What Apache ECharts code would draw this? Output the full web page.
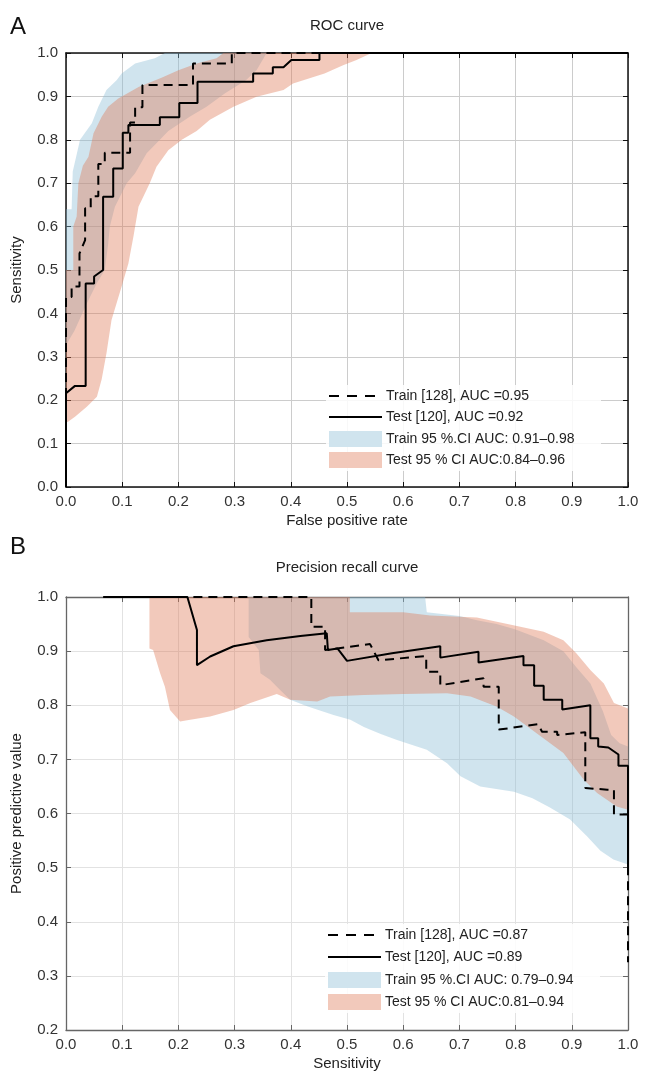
<!DOCTYPE html>
<html>
<head>
<meta charset="utf-8">
<script src="https://cdn.jsdelivr.net/npm/echarts@6/dist/echarts.min.js"></script>
<style>
html, body { margin: 0; padding: 0; background: #fff; }
#chart { width: 646px; height: 1078px; }
</style>
</head>
<body>
<div id="chart"></div>
<script>
// ---- ROC curve: [false positive rate, sensitivity] ----
var rocTrain = [[0,0],[0,0.438],[0.01,0.438],[0.01,0.462],[0.024,0.462],[0.024,0.538],[0.034,0.569],[0.034,0.642],[0.044,0.642],[0.044,0.670],[0.0575,0.670],[0.0575,0.744],[0.069,0.744],[0.069,0.770],[0.114,0.770],[0.114,0.840],[0.123,0.840],[0.123,0.875],[0.136,0.875],[0.136,0.926],[0.226,0.926],[0.226,0.976],[0.295,0.976],[0.295,1],[1,1]];
var rocTest = [[0,0],[0,0.216],[0.016,0.233],[0.035,0.233],[0.035,0.469],[0.05,0.469],[0.05,0.485],[0.053,0.485],[0.066,0.5],[0.066,0.669],[0.084,0.669],[0.084,0.734],[0.101,0.734],[0.101,0.816],[0.111,0.816],[0.111,0.834],[0.167,0.834],[0.167,0.852],[0.2016,0.852],[0.2016,0.885],[0.234,0.885],[0.234,0.934],[0.333,0.934],[0.333,0.953],[0.368,0.953],[0.368,0.967],[0.387,0.967],[0.401,0.984],[0.451,0.984],[0.451,1],[1,1]];
// 95% CI envelopes, traced as closed outlines
var rocTrainBand = [[0,0.327],[0,0.64],[0.01,0.64],[0.012,0.727],[0.025,0.8],[0.046,0.838],[0.0575,0.876],[0.072,0.915],[0.09,0.937],[0.099,0.953],[0.123,0.976],[0.158,0.988],[0.176,1.0],[0.357,1.0],[0.339,0.96],[0.32,0.937],[0.283,0.907],[0.25,0.876],[0.22,0.853],[0.182,0.82],[0.167,0.8],[0.1435,0.769],[0.123,0.723],[0.108,0.7],[0.087,0.646],[0.078,0.6],[0.075,0.56],[0.069,0.5],[0.055,0.47],[0.037,0.423],[0.015,0.36]];
var rocTestBand = [[0,0.15],[0,0.5],[0.013,0.5],[0.013,0.6],[0.019,0.623],[0.022,0.70],[0.03,0.74],[0.04,0.761],[0.049,0.815],[0.0635,0.853],[0.075,0.876],[0.093,0.895],[0.13,0.922],[0.17,0.943],[0.2,0.96],[0.2325,0.976],[0.268,0.988],[0.28,1.0],[0.544,1.0],[0.517,0.984],[0.493,0.972],[0.46,0.953],[0.404,0.93],[0.387,0.915],[0.339,0.899],[0.298,0.876],[0.256,0.846],[0.2325,0.82],[0.206,0.8],[0.182,0.776],[0.161,0.738],[0.149,0.7],[0.129,0.646],[0.123,0.6],[0.12,0.577],[0.111,0.515],[0.099,0.462],[0.081,0.385],[0.072,0.308],[0.0635,0.248],[0.055,0.208],[0.037,0.185],[0.016,0.162],[0.003,0.15]];

// ---- Precision-recall curve: [sensitivity, positive predictive value] ----
var prTrain = [[0.0665,1],[0.4365,1],[0.4365,0.945],[0.461,0.945],[0.461,0.902],[0.541,0.913],[0.556,0.883],[0.641,0.891],[0.641,0.862],[0.666,0.862],[0.666,0.837],[0.743,0.85],[0.743,0.834],[0.77,0.834],[0.77,0.755],[0.84,0.765],[0.847,0.751],[0.874,0.751],[0.874,0.745],[0.924,0.75],[0.924,0.647],[0.963,0.644],[0.975,0.644],[0.975,0.598],[1.0,0.598],[1.0,0.325]];
var prTest = [[0.0665,1],[0.216,1],[0.233,0.939],[0.233,0.874],[0.2565,0.89],[0.298,0.909],[0.357,0.92],[0.417,0.928],[0.464,0.933],[0.466,0.902],[0.483,0.905],[0.5,0.882],[0.58,0.896],[0.666,0.909],[0.666,0.888],[0.734,0.899],[0.734,0.879],[0.814,0.891],[0.814,0.874],[0.833,0.874],[0.833,0.836],[0.85,0.836],[0.85,0.81],[0.883,0.81],[0.883,0.792],[0.933,0.80],[0.933,0.739],[0.947,0.739],[0.947,0.724],[0.965,0.722],[0.983,0.709],[0.983,0.688],[1.0,0.688],[1.0,0.5]];
var prTrainBand = [[0.325,1.0],[0.639,1.0],[0.642,0.972],[0.7,0.965],[0.731,0.957],[0.766,0.95],[0.8,0.94],[0.85,0.92],[0.885,0.9],[0.908,0.87],[0.933,0.84],[0.955,0.79],[0.97,0.745],[0.985,0.73],[1.0,0.724],[1.0,0.506],[0.974,0.515],[0.951,0.531],[0.927,0.558],[0.897,0.589],[0.861,0.611],[0.83,0.628],[0.797,0.64],[0.737,0.65],[0.702,0.669],[0.678,0.693],[0.642,0.718],[0.589,0.736],[0.56,0.747],[0.53,0.76],[0.506,0.773],[0.476,0.782],[0.429,0.798],[0.399,0.81],[0.381,0.828],[0.363,0.847],[0.346,0.859],[0.343,0.902],[0.325,0.926]];
var prTestBand = [[0.1485,1.0],[0.505,1.0],[0.505,0.972],[0.6,0.972],[0.648,0.966],[0.731,0.962],[0.796,0.948],[0.85,0.936],[0.885,0.92],[0.908,0.896],[0.933,0.865],[0.957,0.84],[0.975,0.804],[1.0,0.794],[1.0,0.607],[0.98,0.613],[0.945,0.638],[0.921,0.663],[0.885,0.712],[0.838,0.748],[0.797,0.779],[0.767,0.797],[0.72,0.816],[0.678,0.822],[0.6,0.821],[0.53,0.819],[0.47,0.816],[0.447,0.807],[0.399,0.81],[0.375,0.821],[0.328,0.804],[0.298,0.791],[0.2565,0.779],[0.221,0.773],[0.203,0.77],[0.185,0.791],[0.176,0.834],[0.1675,0.859],[0.155,0.902],[0.1485,0.905]];

// ---- text ----
var panelTitles = ['ROC curve', 'Precision recall curve'];
var panelLetters = ['A', 'B'];
var xAxisNames = ['False positive rate', 'Sensitivity'];
var yAxisNames = ['Sensitivity', 'Positive predictive value'];
var rocLegend = ['Train [128], AUC =0.95', 'Test [120], AUC =0.92', 'Train 95 %.CI AUC: 0.91\u20130.98', 'Test 95 % CI AUC:0.84\u20130.96'];
var prLegend = ['Train [128], AUC =0.87', 'Test [120], AUC =0.89', 'Train 95 %.CI AUC: 0.79\u20130.94', 'Test 95 % CI AUC:0.81\u20130.94'];
var rocRange = { xMin: 0, xMax: 1, yMin: 0, yMax: 1, step: 0.1 };
var prRange = { xMin: 0, xMax: 1, yMin: 0.2, yMax: 1, step: 0.1 };

var FONT = 'Liberation Sans, Arial, Helvetica, sans-serif';
var BLUE = 'rgba(137,187,212,0.40)';
var SALMON = 'rgba(222,120,85,0.40)';
var BLUE_KEY = 'rgb(208,228,238)';
var SALMON_KEY = 'rgb(242,201,187)';

var grids = [
  { left: 66, top: 53, width: 562, height: 434 },
  { left: 66, top: 597, width: 562, height: 433 }
];
var panelStyle = [
  { axis: '#111', axisWidth: 1.5, grid: '#cccccc' },
  { axis: '#666', axisWidth: 1.3, grid: '#e2e2e2' }
];

function fmt(v) { return v.toFixed(1); }

var xAxes = [], yAxes = [];
[rocRange, prRange].forEach(function (r, g) {
  var st = panelStyle[g];
  var line = { show: true, onZero: false, lineStyle: { color: st.axis, width: st.axisWidth } };
  var tick = { show: true, inside: true, length: 5, lineStyle: { color: st.axis, width: 1 } };
  xAxes.push({
    type: 'value', gridIndex: g, position: 'bottom', min: r.xMin, max: r.xMax, interval: r.step,
    axisLine: line, axisTick: tick,
    axisLabel: { formatter: fmt, color: '#333', fontSize: 15, fontFamily: FONT, margin: 7 },
    splitLine: { show: true, lineStyle: { color: st.grid, width: 1 } },
    name: xAxisNames[g], nameLocation: 'middle', nameGap: 26,
    nameTextStyle: { color: '#222', fontSize: 15, fontFamily: FONT }
  });
  xAxes.push({
    type: 'value', gridIndex: g, position: 'top', min: r.xMin, max: r.xMax, interval: r.step,
    axisLine: line, axisTick: tick, axisLabel: { show: false }, splitLine: { show: false }
  });
  yAxes.push({
    type: 'value', gridIndex: g, position: 'left', min: r.yMin, max: r.yMax, interval: r.step,
    axisLine: line, axisTick: tick,
    axisLabel: { formatter: fmt, color: '#333', fontSize: 15, fontFamily: FONT, margin: 8 },
    splitLine: { show: true, lineStyle: { color: st.grid, width: 1 } },
    name: yAxisNames[g], nameLocation: 'middle', nameGap: 42,
    nameTextStyle: { color: '#222', fontSize: 15, fontFamily: FONT }
  });
  yAxes.push({
    type: 'value', gridIndex: g, position: 'right', min: r.yMin, max: r.yMax, interval: r.step,
    axisLine: line, axisTick: tick, axisLabel: { show: false }, splitLine: { show: false }
  });
});

// filled confidence envelope drawn through the axis scales
function band(poly, color, g) {
  return {
    type: 'custom', xAxisIndex: g * 2, yAxisIndex: g * 2, clip: true, silent: true, z: 1,
    data: [[poly[0][0], poly[0][1]]],
    encode: { x: 0, y: 1 },
    renderItem: function (params, api) {
      var pts = poly.map(function (p) { return api.coord(p); });
      return { type: 'polygon', shape: { points: pts }, style: { fill: color, stroke: null } };
    }
  };
}
function curve(points, dashed, g) {
  return {
    type: 'line', xAxisIndex: g * 2, yAxisIndex: g * 2, data: points,
    showSymbol: false, symbol: 'none', clip: false, silent: true, z: dashed ? 4 : 3,
    lineStyle: { color: '#000', width: 2, type: dashed ? [9, 6] : 'solid', cap: 'butt' }
  };
}

// legend keys + labels
function legendGraphics(labels, rows, x0) {
  var els = [];
  els.push({ type: 'rect', shape: { x: x0 - 3, y: rows[0] - 11, width: 275, height: rows[3] - rows[0] + 22 },
    style: { fill: 'rgba(255,255,255,0.85)' }, z: 10 });
  els.push({ type: 'line', shape: { x1: x0, y1: rows[0], x2: x0 + 53, y2: rows[0] },
    style: { stroke: '#000', lineWidth: 2, lineDash: [10, 8] }, z: 11 });
  els.push({ type: 'line', shape: { x1: x0, y1: rows[1], x2: x0 + 53, y2: rows[1] },
    style: { stroke: '#000', lineWidth: 2 }, z: 11 });
  els.push({ type: 'rect', shape: { x: x0, y: rows[2] - 8, width: 53, height: 16 },
    style: { fill: BLUE_KEY }, z: 11 });
  els.push({ type: 'rect', shape: { x: x0, y: rows[3] - 8, width: 53, height: 16 },
    style: { fill: SALMON_KEY }, z: 11 });
  labels.forEach(function (t, i) {
    els.push({ type: 'text', x: x0 + 57, y: rows[i], z: 12,
      style: { text: t, fill: '#222', font: '14px ' + FONT, textAlign: 'left', textVerticalAlign: 'middle' } });
  });
  return els;
}

var graphics = [];
graphics.push({ type: 'text', x: 347, y: 26, style: { text: panelTitles[0], fill: '#222', font: '15px ' + FONT, textAlign: 'center', textVerticalAlign: 'middle' } });
graphics.push({ type: 'text', x: 347, y: 568, style: { text: panelTitles[1], fill: '#222', font: '15px ' + FONT, textAlign: 'center', textVerticalAlign: 'middle' } });
graphics.push({ type: 'text', x: 10, y: 27, style: { text: panelLetters[0], fill: '#111', font: '24px ' + FONT, textAlign: 'left', textVerticalAlign: 'middle' } });
graphics.push({ type: 'text', x: 10, y: 547, style: { text: panelLetters[1], fill: '#111', font: '24px ' + FONT, textAlign: 'left', textVerticalAlign: 'middle' } });
graphics = graphics.concat(legendGraphics(rocLegend, [396, 417, 439, 460], 329));
graphics = graphics.concat(legendGraphics(prLegend, [935, 957, 980, 1002], 328));

var chart = echarts.init(document.getElementById('chart'), null, { renderer: 'canvas' });
chart.setOption({
  animation: false,
  backgroundColor: '#fff',
  grid: grids,
  xAxis: xAxes,
  yAxis: yAxes,
  series: [
    band(rocTrainBand, BLUE, 0),
    band(rocTestBand, SALMON, 0),
    curve(rocTest, false, 0),
    curve(rocTrain, true, 0),
    band(prTrainBand, BLUE, 1),
    band(prTestBand, SALMON, 1),
    curve(prTest, false, 1),
    curve(prTrain, true, 1)
  ],
  graphic: graphics
});
</script>
</body>
</html>
